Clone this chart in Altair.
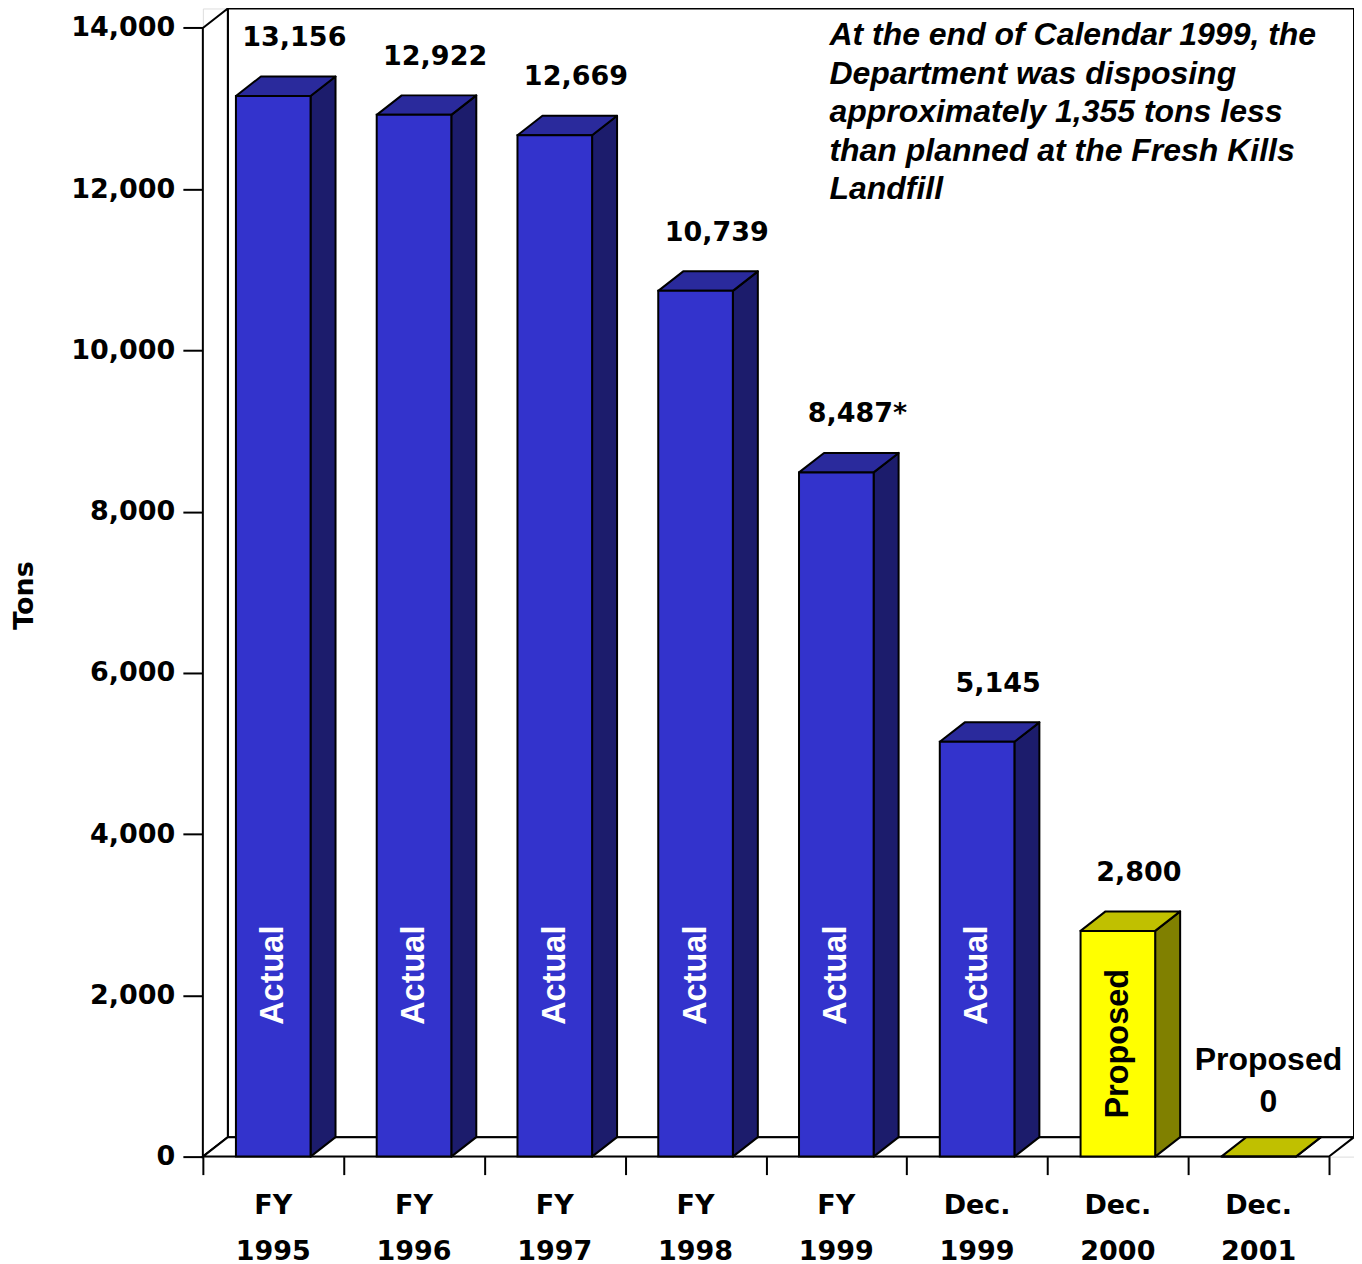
import altair as alt
import pandas as pd

# ---------------- data ----------------
cat_line1 = ["FY", "FY", "FY", "FY", "FY", "Dec.", "Dec.", "Dec."]
cat_line2 = ["1995", "1996", "1997", "1998", "1999", "1999", "2000", "2001"]
tons = [13156, 12922, 12669, 10739, 8487, 5145, 2800, 0]
status = ["Actual", "Actual", "Actual", "Actual", "Actual", "Actual", "Proposed", "Proposed"]
value_note = ["", "", "", "", "*", "", "", ""]
inside_label = ["Actual", "Actual", "Actual", "Actual", "Actual", "Actual", "Proposed", ""]
y_tick_values = [0, 2000, 4000, 6000, 8000, 10000, 12000, 14000]
note_lines = [
    "At the end of Calendar 1999, the",
    "Department was disposing",
    "approximately 1,355 tons less",
    "than planned at the Fresh Kills",
    "Landfill",
]

# ---------------- geometry / style ----------------
N = len(tons)
Y_MAX = 14000
W, H = 1152, 1149
UNIT_X = 140.875            # px per category
UNIT_Y = 1129.5 / Y_MAX     # px per ton
DX = 25 / UNIT_X            # 3-D depth in category units
DY = 19.5 / UNIT_Y          # 3-D depth in tons
BAR_L, BAR_R = 0.235, 0.765

shade_domain = ["Actual front", "Actual side", "Actual top",
                "Proposed front", "Proposed side", "Proposed top"]
shade_range = ["#3333cc", "#1c1c6c", "#2a2a9c",
               "#ffff00", "#808000", "#c0c000"]

xs = alt.Scale(domain=[0, N + DX], nice=False, zero=False)
ys = alt.Scale(domain=[0, Y_MAX + DY], nice=False, zero=False)
fill_scale = alt.Scale(domain=shade_domain, range=shade_range)

x_axis = alt.Axis(values=list(range(N + 1)), tickSize=18, tickWidth=2, tickColor="black",
                  labels=False, domain=False, grid=False, title=None)
y_axis = alt.Axis(values=y_tick_values, format=",d", tickSize=20, tickWidth=2, tickColor="black",
                  labelFont="DejaVu Sans", labelFontWeight="bold", labelFontSize=27,
                  labelColor="black", labelPadding=8, domain=False, grid=False,
                  title="Tons", titleFont="DejaVu Sans", titleFontWeight="bold",
                  titleFontSize=27, titleColor="black", titleAngle=270,
                  titleX=-178, titleY=587, titleAlign="center", titleBaseline="middle")


def X(f):
    return alt.X(f, type="quantitative", scale=xs, axis=x_axis)


def Y(f):
    return alt.Y(f, type="quantitative", scale=ys, axis=y_axis)


# ---------------- tables ----------------
wall_rows = []
for poly, pts in [
    ("back", [(DX, Y_MAX + DY, DY), (N + DX, Y_MAX + DY, DY)]),
    ("left", [(0, Y_MAX, 0), (DX, Y_MAX + DY, DY)]),
    ("floor", [(0, 0, 0), (DX, DY, 0), (N, DY, 0), (N + DX, DY, DY)]),
]:
    for x, y, y2 in pts:
        wall_rows.append(dict(poly=poly, x=x, y=y, y2=y2))
walls_df = pd.DataFrame(wall_rows)

face_rows, bar_rows = [], []
for i, (v, s) in enumerate(zip(tons, status)):
    x0, x1 = i + BAR_L, i + BAR_R
    for x, y, y2 in [(x1, v, 0), (x1 + DX, v + DY, DY)]:
        face_rows.append(dict(poly=f"side{i}", shade=f"{s} side", x=x, y=y, y2=y2))
    for x, y, y2 in [(x0, v, v), (x0 + DX, v + DY, v), (x1, v + DY, v), (x1 + DX, v + DY, v + DY)]:
        face_rows.append(dict(poly=f"top{i}", shade=f"{s} top", x=x, y=y, y2=y2))
    bar_rows.append(dict(
        i=i, x0=x0, x1=x1, v=v, zero=0, shade=f"{s} front", status=s,
        cx=i + 0.5, lx=i + 0.65, px=i + 0.57,
        iy=min(v / 2, 2250),
        label=f"{v:,}{value_note[i]}",
        zero_label=f"{s}\n{v:,}",
        inside=inside_label[i],
        cat=f"{cat_line1[i]}\n{cat_line2[i]}",
    ))
faces_df = pd.DataFrame(face_rows)
bars_df = pd.DataFrame(bar_rows)
note_df = pd.DataFrame([dict(x=(830 - 203) / UNIT_X, y=(H - 37) / UNIT_Y, text="\n".join(note_lines))])

# ---------------- layers ----------------
walls = alt.Chart(walls_df).mark_area(
    orient="vertical", fill="white", stroke="black", strokeWidth=2, interpolate="linear"
).encode(x=X("x"), y=Y("y"), y2="y2", detail="poly:N")

faces = alt.Chart(faces_df).mark_area(
    orient="vertical", stroke="black", strokeWidth=2, interpolate="linear", strokeJoin="round"
).encode(x=X("x"), y=Y("y"), y2="y2", detail="poly:N",
         fill=alt.Fill("shade:N", scale=fill_scale, legend=None))

fronts = alt.Chart(bars_df).mark_rect(stroke="black", strokeWidth=2).encode(
    x=X("x0"), x2="x1", y=Y("v"), y2="zero",
    fill=alt.Fill("shade:N", scale=fill_scale, legend=None))

values = alt.Chart(bars_df).transform_filter("datum.v > 0").mark_text(
    font="DejaVu Sans", fontWeight="bold", fontSize=27, baseline="alphabetic",
    align="center", dy=-50, color="black"
).encode(x=X("lx"), y=Y("v"), text="label:N")

zero_lbl = alt.Chart(bars_df).transform_filter("datum.v == 0").mark_text(
    font="Liberation Sans", fontWeight="bold", fontSize=32, baseline="alphabetic",
    align="center", dy=-87, lineBreak="\n", lineHeight=42, color="black"
).encode(x=X("px"), y=Y("v"), text="zero_label:N")

inside = alt.Chart(bars_df).transform_filter("datum.inside != ''").mark_text(
    font="Liberation Sans", fontWeight="bold", fontSize=32.5, baseline="middle",
    align="center", angle=270
).encode(x=X("cx"), y=Y("iy"), text="inside:N",
         color=alt.Color("status:N", scale=alt.Scale(domain=["Actual", "Proposed"],
                                                    range=["white", "black"]), legend=None))

cats = alt.Chart(bars_df).mark_text(
    font="DejaVu Sans", fontWeight="bold", fontSize=27, baseline="alphabetic",
    align="center", dy=57, lineBreak="\n", lineHeight=46, color="black"
).encode(x=X("cx"), y=Y("zero"), text="cat:N")

note = alt.Chart(note_df).mark_text(
    font="Liberation Sans", fontWeight="bold", fontStyle="italic", fontSize=32,
    baseline="alphabetic", align="left", lineBreak="\n", lineHeight=38.5, color="black"
).encode(x=X("x"), y=Y("y"), text="text:N")

chart = alt.layer(walls, faces, fronts, values, zero_lbl, inside, cats, note).properties(
    width=W, height=H,
    autosize=alt.AutoSizeParams(type="none"),
    padding={"left": 195, "top": 0, "right": 0, "bottom": 110},
).configure_view(strokeWidth=0).configure(background="white")

chart.save("out.html", embed_options={"renderer": "svg", "actions": False})
